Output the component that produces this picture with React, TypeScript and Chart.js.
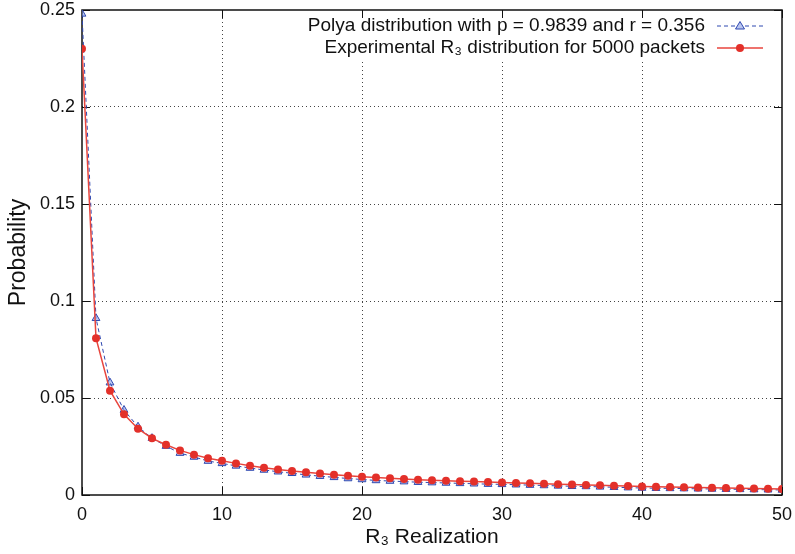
import React, { useEffect, useRef } from "react";
import { Chart, registerables } from "chart.js";

Chart.register(...registerables);

const xValues: number[] = Array.from({ length: 51 }, (_, i) => i);

const polyaValues: number[] = [
  0.248, 0.0911, 0.0579, 0.0438, 0.0352, 0.0293, 0.0252, 0.0216, 0.0196, 0.0175,
  0.0163, 0.015, 0.0139, 0.0129, 0.012, 0.0112, 0.0104, 0.0097, 0.0091, 0.0085,
  0.008, 0.0075, 0.0072, 0.0069, 0.0066, 0.0064, 0.0062, 0.006, 0.0058, 0.0056,
  0.0055, 0.0053, 0.0051, 0.0049, 0.0047, 0.0045, 0.0044, 0.0042, 0.004, 0.0038,
  0.0036, 0.0035, 0.0034, 0.0033, 0.0032, 0.0031, 0.003, 0.0029, 0.0028, 0.0027,
  0.0026,
];

const experimentalValues: number[] = [
  0.23, 0.0808, 0.0538, 0.0416, 0.0342, 0.0292, 0.0259, 0.023, 0.0208, 0.0189,
  0.0177, 0.0163, 0.0151, 0.0141, 0.0132, 0.0124, 0.0117, 0.0111, 0.0105, 0.0099,
  0.0094, 0.009, 0.0086, 0.0082, 0.0079, 0.0076, 0.0073, 0.0071, 0.0069, 0.0067,
  0.0065, 0.0062, 0.006, 0.0058, 0.0056, 0.0054, 0.0052, 0.005, 0.0048, 0.0046,
  0.0044, 0.0043, 0.0041, 0.004, 0.0039, 0.0037, 0.0036, 0.0035, 0.0034, 0.0032,
  0.0031,
];

const yTickValues: number[] = [0, 0.05, 0.1, 0.15, 0.2, 0.25];
const yTickLabels: string[] = ["0", "0.05", "0.1", "0.15", "0.2", "0.25"];
const xTickValues: number[] = [0, 10, 20, 30, 40, 50];

const seriesLabels: string[] = [
  "Polya distribution with p = 0.9839 and r = 0.356",
  "Experimental R\u2083 distribution for 5000 packets",
];

const FONT = "'Liberation Sans', Arial, Helvetica, sans-serif";
const BLUE = "#2f48b0";
const BLUE_FILL = "rgba(140,160,230,0.6)";
const RED_LINE = "#e8453d";
const RED_PT = "#e3302a";

const framePlugin = {
  id: "frame",
  beforeDatasetsDraw(chart: any) {
    const { ctx, chartArea } = chart;
    const { left, right, top, bottom } = chartArea;
    const xs = chart.scales.x;
    const ys = chart.scales.y;
    ctx.save();
    ctx.strokeStyle = "#111";
    ctx.lineWidth = 1;
    const tl = 8;
    ctx.beginPath();
    xTickValues.forEach((v) => {
      const px = Math.round(xs.getPixelForValue(v)) + 0.5;
      ctx.moveTo(px, bottom);
      ctx.lineTo(px, bottom - tl);
      ctx.moveTo(px, top);
      ctx.lineTo(px, top + tl);
    });
    yTickValues.forEach((v) => {
      const py = Math.round(ys.getPixelForValue(v)) + 0.5;
      ctx.moveTo(left, py);
      ctx.lineTo(left + tl, py);
      ctx.moveTo(right, py);
      ctx.lineTo(right - tl, py);
    });
    ctx.stroke();
    ctx.lineWidth = 1.5;
    ctx.strokeRect(left, top, right - left, bottom - top);
    ctx.restore();
  },
};

const legendPlugin = {
  id: "customLegend",
  afterDatasetsDraw(chart: any) {
    const { ctx, chartArea } = chart;
    const textRight = chartArea.right - 77;
    const lineStart = chartArea.right - 65;
    const lineEnd = chartArea.right - 19;
    const rows = [chartArea.top + 16, chartArea.top + 38];
    ctx.save();
    ctx.font = `19px ${FONT}`;
    let maxW = 0;
    seriesLabels.forEach((l) => {
      maxW = Math.max(maxW, ctx.measureText(l).width);
    });
    const boxLeft = textRight - maxW - 6;
    ctx.fillStyle = "#fff";
    ctx.fillRect(boxLeft, chartArea.top + 1, chartArea.right - boxLeft - 1, 50);
    ctx.fillStyle = "#111";
    ctx.textAlign = "right";
    ctx.textBaseline = "middle";
    seriesLabels.forEach((label, i) => {
      ctx.fillText(label, textRight, rows[i]);
    });
    // redraw top ticks covered by the box
    const xs = chart.scales.x;
    ctx.strokeStyle = "#111";
    ctx.lineWidth = 1;
    ctx.beginPath();
    xTickValues.forEach((v) => {
      const px = Math.round(xs.getPixelForValue(v)) + 0.5;
      if (px > boxLeft && px < chartArea.right - 2) {
        ctx.moveTo(px, chartArea.top);
        ctx.lineTo(px, chartArea.top + 8);
      }
    });
    ctx.stroke();
    const mid = (lineStart + lineEnd) / 2;
    // Polya sample
    ctx.strokeStyle = BLUE;
    ctx.lineWidth = 1;
    ctx.setLineDash([4, 3]);
    ctx.beginPath();
    ctx.moveTo(lineStart, rows[0]);
    ctx.lineTo(lineEnd, rows[0]);
    ctx.stroke();
    ctx.setLineDash([]);
    ctx.fillStyle = "#fff";
    ctx.beginPath();
    ctx.moveTo(mid, rows[0] - 4.5);
    ctx.lineTo(mid + 4.5, rows[0] + 3);
    ctx.lineTo(mid - 4.5, rows[0] + 3);
    ctx.closePath();
    ctx.fill();
    ctx.fillStyle = BLUE_FILL;
    ctx.fill();
    ctx.stroke();
    // Experimental sample
    ctx.strokeStyle = RED_LINE;
    ctx.lineWidth = 1.5;
    ctx.beginPath();
    ctx.moveTo(lineStart, rows[1]);
    ctx.lineTo(lineEnd, rows[1]);
    ctx.stroke();
    ctx.fillStyle = RED_PT;
    ctx.beginPath();
    ctx.arc(mid, rows[1], 4, 0, Math.PI * 2);
    ctx.fill();
    ctx.restore();
  },
};

export default function App() {
  const canvasRef = useRef<HTMLCanvasElement | null>(null);

  useEffect(() => {
    if (!canvasRef.current) return;
    const chart = new Chart(canvasRef.current, {
      type: "line",
      data: {
        datasets: [
          {
            label: seriesLabels[1],
            data: xValues.map((x, i) => ({ x, y: experimentalValues[i] })),
            borderColor: RED_LINE,
            borderWidth: 1.5,
            backgroundColor: RED_PT,
            pointBackgroundColor: RED_PT,
            pointBorderColor: RED_PT,
            pointRadius: 4,
            pointBorderWidth: 0,
            pointStyle: "circle",
            tension: 0,
            order: 0,
          },
          {
            label: seriesLabels[0],
            data: xValues.map((x, i) => ({ x, y: polyaValues[i] })),
            borderColor: BLUE,
            borderWidth: 1,
            borderDash: [4, 3],
            backgroundColor: BLUE_FILL,
            pointBackgroundColor: BLUE_FILL,
            pointBorderColor: BLUE,
            pointRadius: 4.5,
            pointBorderWidth: 1,
            pointStyle: "triangle",
            tension: 0,
            order: 1,
          },
        ],
      },
      options: {
        animation: false,
        responsive: false,
        maintainAspectRatio: false,
        layout: { padding: { left: 0, right: 13, top: 10, bottom: 0 } },
        plugins: {
          legend: { display: false },
          tooltip: { enabled: false },
        },
        scales: {
          x: {
            type: "linear",
            min: 0,
            max: 50,
            afterFit: (s: any) => {
              s.height = 59;
              s.paddingLeft = 0;
              s.paddingRight = 0;
            },
            afterBuildTicks: (s: any) => {
              s.ticks = xTickValues.map((v) => ({ value: v }));
            },
            ticks: {
              color: "#111",
              font: { family: FONT, size: 18 },
              padding: 9,
              maxRotation: 0,
              callback: (v: any) => String(v),
            },
            grid: {
              drawTicks: false,
              color: (c: any) =>
                c.tick && (c.tick.value === 0 || c.tick.value === 50) ? "rgba(0,0,0,0)" : "#444",
              lineWidth: 1,
            },
            border: { display: false, dash: [1, 3] },
            title: {
              display: true,
              text: "R\u2083 Realization",
              color: "#111",
              font: { family: FONT, size: 21 },
              padding: { top: 0, bottom: 4 },
            },
          },
          y: {
            type: "linear",
            min: 0,
            max: 0.25,
            afterFit: (s: any) => {
              s.width = 82;
              s.paddingTop = 0;
              s.paddingBottom = 0;
            },
            afterBuildTicks: (s: any) => {
              s.ticks = yTickValues.map((v) => ({ value: v }));
            },
            ticks: {
              color: "#111",
              font: { family: FONT, size: 18 },
              padding: 7,
              callback: (_v: any, i: number) => yTickLabels[i],
            },
            grid: {
              drawTicks: false,
              color: (c: any) =>
                c.tick && (c.tick.value === 0 || c.tick.value === 0.25) ? "rgba(0,0,0,0)" : "#444",
              lineWidth: 1,
            },
            border: { display: false, dash: [1, 3] },
            title: {
              display: true,
              text: "Probability",
              color: "#111",
              font: { family: FONT, size: 23 },
              padding: { top: 5, bottom: 0 },
            },
          },
        },
      },
      plugins: [framePlugin, legendPlugin],
    });
    return () => chart.destroy();
  }, []);

  return (
    <div style={{ position: "absolute", left: 0, top: 0, width: 795, height: 554, background: "#fff" }}>
      <canvas ref={canvasRef} width={795} height={554} style={{ display: "block" }} />
    </div>
  );
}
